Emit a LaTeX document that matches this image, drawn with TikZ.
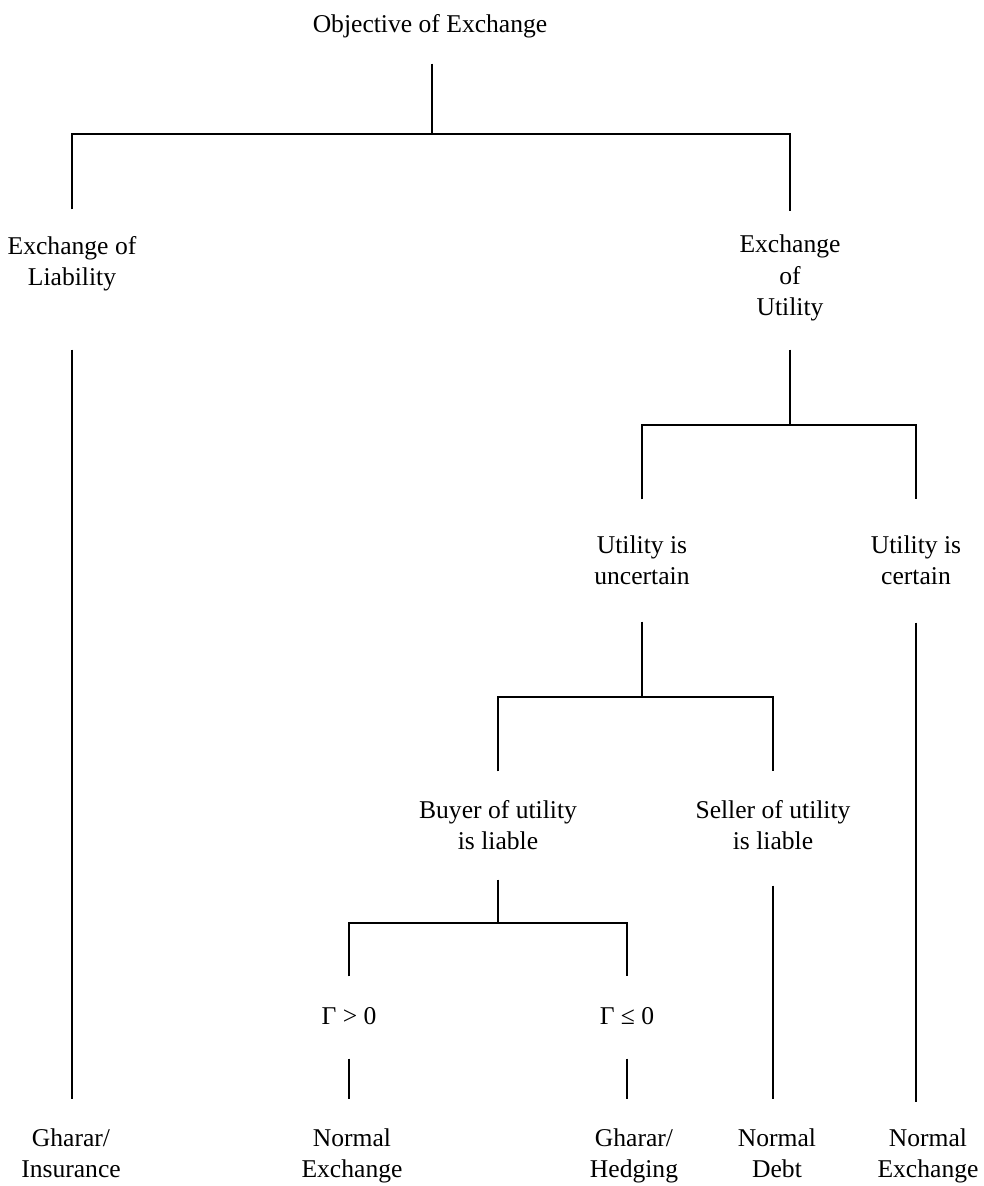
\documentclass[tikz,border=0pt]{standalone}
\usepackage{fontspec}
\setmainfont{Liberation Serif}
\usetikzlibrary{calc}

\begin{document}
\begin{tikzpicture}[
x=0.025cm, y=-0.025cm,
term/.style={align=center, inner sep=0pt, text height=12.1pt, text depth=3.9pt, font=\fontsize{18.2}{22.5}\selectfont},
branch/.style={line width=1.2pt}
]
	\useasboundingbox (0,0) rectangle (984,1186);

	\node [term] at (430,27) (obj) {Objective of Exchange};
	\node [term] at (72,280) (liab) {Exchange of\\Liability};
	\node [term] at (790,310) (util) {Exchange\\of\\Utility};
	\node [term] at (642,579) (unc) {Utility is\\uncertain};
	\node [term] at (916,579) (cert) {Utility is\\certain};
	\node [term] at (498,844) (buyer) {Buyer of utility\\is liable};
	\node [term] at (773,844) (seller) {Seller of utility\\is liable};
	\node [term] at (349,1019) (gpos) {Γ > 0};
	\node [term] at (627,1019) (gneg) {Γ ≤ 0};
	\node [term] at (71,1172) (ins) {Gharar/\\Insurance};
	\node [term] at (352,1172) (nexa) {Normal\\Exchange};
	\node [term] at (634,1172) (hedge) {Gharar/\\Hedging};
	\node [term] at (777,1172) (debt) {Normal\\Debt};
	\node [term] at (928,1172) (nexb) {Normal\\Exchange};

	% objective
	\coordinate (j0) at (432,134);
	\draw [branch] ($(obj.south)+(2,25)$) -- (j0);
	\draw [branch] ($(liab.north)+(0,-59)$) |- (j0) -| ($(util.north)+(0,-87)$);
	\draw [branch] ($(liab.south)+(0,58)$) -- ($(liab.south |- ins.north)+(0,-61)$);

	% utility
	\coordinate (j1) at (790,425);
	\draw [branch] ($(util.south)+(0,28)$) -- (j1);
	\draw [branch] ($(unc.north)+(0,-68)$) |- (j1) -| ($(cert.north)+(0,-68)$);
	\draw [branch] ($(cert.south)+(0,32)$) -- ($(cert.south |- nexb.north)+(0,-58)$);

	% uncertain
	\coordinate (j2) at (642,697);
	\draw [branch] ($(unc.south)+(0,31)$) -- (j2);
	\draw [branch] ($(buyer.north)+(0,-61)$) |- (j2) -| ($(seller.north)+(0,-61)$);
	\draw [branch] ($(seller.south)+(0,30)$) -- ($(seller.south |- debt.north)+(0,-61)$);

	% buyer
	\coordinate (j3) at (498,923);
	\draw [branch] ($(buyer.south)+(0,24)$) -- (j3);
	\draw [branch] ($(gpos.north)+(0,-31)$) |- (j3) -| ($(gneg.north)+(0,-31)$);
	\draw [branch] ($(gpos.south)+(0,28)$) -- ($(gpos.south |- nexa.north)+(0,-61)$);
	\draw [branch] ($(gneg.south)+(0,28)$) -- ($(gneg.south |- hedge.north)+(0,-61)$);
\end{tikzpicture}
\end{document}
